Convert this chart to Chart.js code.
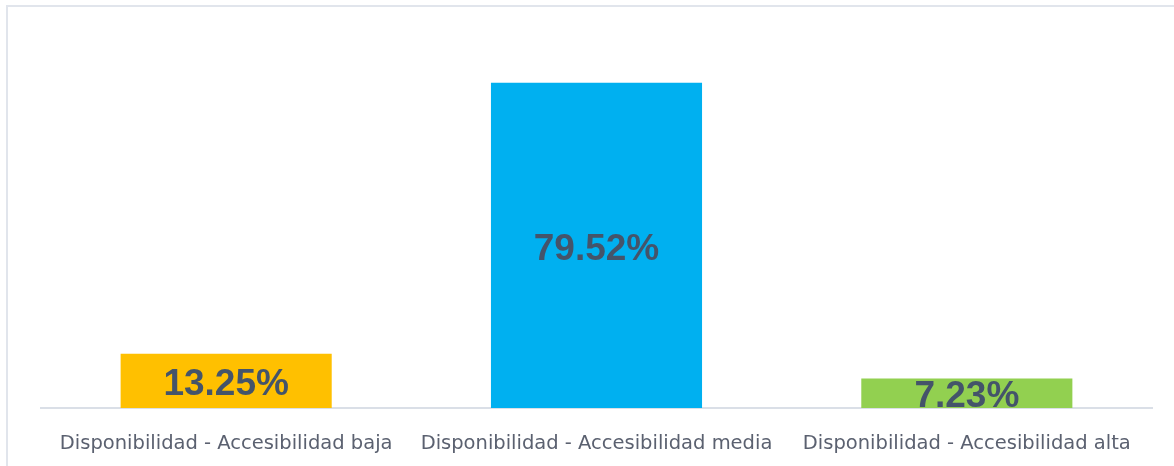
<!DOCTYPE html>
<html>
<head>
<meta charset="utf-8">
<script src="https://cdn.jsdelivr.net/npm/chart.js@4/dist/chart.umd.min.js"></script>
<style>
    html, body { margin: 0; padding: 0; background: #fff; overflow: hidden; }
    #wrap { position: relative; width: 1174px; height: 466px; }
    #frame {
        position: absolute; left: 6px; top: 5px; width: 1200px; height: 500px;
        border-left: 2px solid #e1e5ec; border-top: 2px solid #e1e5ec;
    }
    canvas { position: absolute; left: 0; top: 0; }
</style>
</head>
<body>
<div id="wrap">
    <div id="frame"></div>
    <canvas id="chart" width="1174" height="466"></canvas>
</div>
<script>
const categories = [
    'Disponibilidad - Accesibilidad baja',
    'Disponibilidad - Accesibilidad media',
    'Disponibilidad - Accesibilidad alta'
];
const values = [13.25, 79.52, 7.23];
const barColors = ['#FFC000', '#00B0F0', '#92D050'];

// draws the percentage in the middle of each bar
const valueLabels = {
    id: 'valueLabels',
    afterDatasetsDraw(chart) {
        const ctx = chart.ctx;
        const meta = chart.getDatasetMeta(0);
        ctx.save();
        ctx.font = 'bold 37px "Liberation Sans", Arial, sans-serif';
        ctx.fillStyle = '#44546A';
        ctx.textAlign = 'center';
        ctx.textBaseline = 'middle';
        meta.data.forEach((bar, i) => {
            const mid = (bar.y + bar.base) / 2 + 4;
            ctx.fillText(values[i].toFixed(2) + '%', bar.x, mid);
        });
        ctx.restore();
    }
};

new Chart(document.getElementById('chart').getContext('2d'), {
    type: 'bar',
    data: {
        labels: categories,
        datasets: [{
            data: values,
            backgroundColor: barColors,
            categoryPercentage: 1,
            barPercentage: 0.57
        }]
    },
    options: {
        responsive: false,
        animation: false,
        layout: { padding: { left: 41, right: 22, top: 40, bottom: 0 } },
        plugins: { legend: { display: false }, tooltip: { enabled: false } },
        scales: {
            x: {
                grid: { display: false, drawTicks: false },
                border: { display: true, color: '#dadfe7', width: 2 },
                afterFit: (scale) => { scale.height = 58; },
                ticks: {
                    padding: 24,
                    color: '#5b6170',
                    font: { family: '"DejaVu Sans", sans-serif', size: 19.5 },
                    maxRotation: 0,
                    autoSkip: false
                }
            },
            y: { display: false, min: 0, max: 90 }
        }
    },
    plugins: [valueLabels]
});
</script>
</body>
</html>
